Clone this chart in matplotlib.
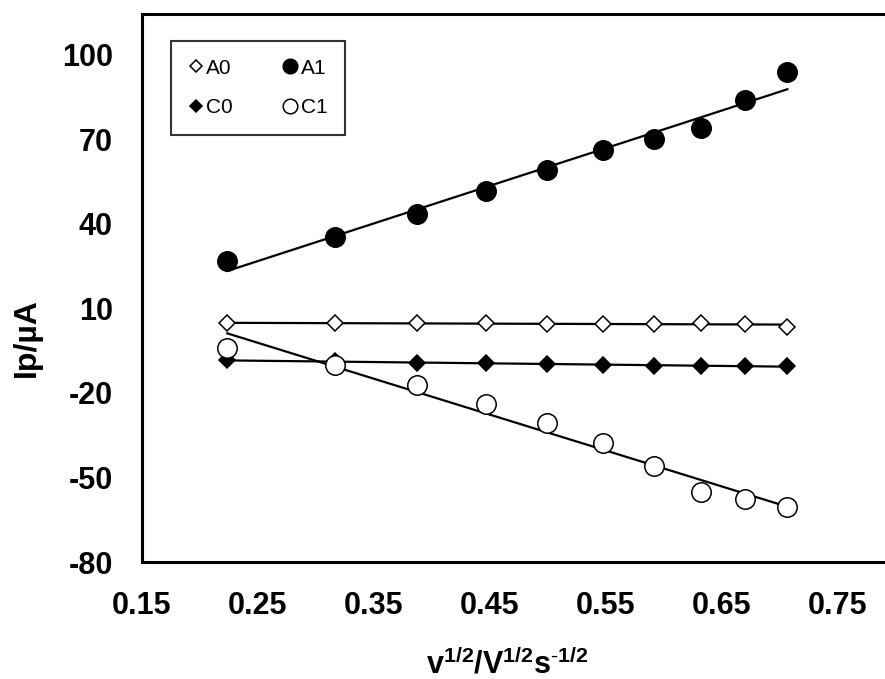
import numpy as np
from matplotlib import pyplot as plt

plt.rcParams['font.family'] = ['Liberation Sans', 'DejaVu Sans']
plt.rcParams['axes.unicode_minus'] = False
plt.rcParams['mathtext.fontset'] = 'custom'
plt.rcParams['mathtext.rm'] = 'Liberation Sans'
plt.rcParams['mathtext.bf'] = 'Liberation Sans:bold'

# Datasett: v^1/2 og topp-straumar
v_sqrt = [0.2236, 0.3162, 0.3873, 0.4472, 0.5000, 0.5477, 0.5916, 0.6325, 0.6708, 0.7071]
A0 = [4.7, 4.7, 4.7, 4.7, 4.6, 4.6, 4.6, 4.7, 4.5, 3.5]
A1 = [27.0, 35.4, 43.5, 51.7, 59.1, 66.1, 70.0, 73.9, 84.1, 94.0]
C0 = [-8.4, -8.8, -9.2, -9.5, -9.8, -10.0, -10.3, -10.4, -10.4, -10.5]
C1 = [-4.1, -10.1, -17.2, -23.9, -30.6, -37.6, -46.1, -55.3, -57.8, -60.6]

xticks = [0.15, 0.25, 0.35, 0.45, 0.55, 0.65, 0.75]
yticks = [-80, -50, -20, 10, 40, 70, 100]

fig = plt.figure(figsize=(8.85, 6.79), dpi=100)
ax = fig.add_axes([142/885, 117/679, 753/885, 548/679])

x = np.array(v_sqrt)
# Serie: (data, merke, fyll, etikett, storleik)
series = [(A0, 'D', 'white', 'A0', 8.5),
          (C0, 'D', 'black', 'C0', 8.5),
          (A1, 'o', 'black', 'A1', 14),
          (C1, 'o', 'white', 'C1', 14)]

for y, m, fc, lab, ms in series:
    y = np.array(y)
    # Lineær trendlinje
    k, c = np.polyfit(x, y, 1)
    ax.plot([x[0], x[-1]], [k*x[0] + c, k*x[-1] + c], 'k-', lw=1.6, zorder=2)
    ax.plot(x, y, linestyle='none', marker=m, ms=ms, mfc=fc, mec='black',
            mew=1.1, label=lab, zorder=3)

ax.set_xlim(0.15, 0.80)
ax.set_ylim(-80, 114.5)
ax.set_xticks(xticks)
ax.set_xticklabels([f'{t:.2f}' for t in xticks])
ax.set_yticks(yticks)
ax.tick_params(length=0, labelsize=22, pad=21)
for t in ax.get_xticklabels() + ax.get_yticklabels():
    t.set_fontweight('bold')
for s in ax.spines.values():
    s.set_linewidth(2.2)

ax.set_ylabel('Ip/µA', fontsize=23, fontweight='bold')
ax.yaxis.set_label_coords(-0.133, 0.41)
ax.set_xlabel(r'$\mathbf{v^{1/2}/V^{1/2}s^{\text{-}1/2}}$', fontsize=22)
ax.xaxis.set_label_coords(0.485, -0.158)

leg = ax.legend(ncol=2, loc='upper left', bbox_to_anchor=(0.0385, 0.951),
                borderaxespad=0, fontsize=15, markerscale=0.75, handlelength=0.7,
                handletextpad=0.15, columnspacing=2.4, labelspacing=1.0,
                fancybox=False, edgecolor='black', borderpad=0.85)
leg.get_frame().set_linewidth(1.5)

fig.savefig('out.png', dpi=100)
